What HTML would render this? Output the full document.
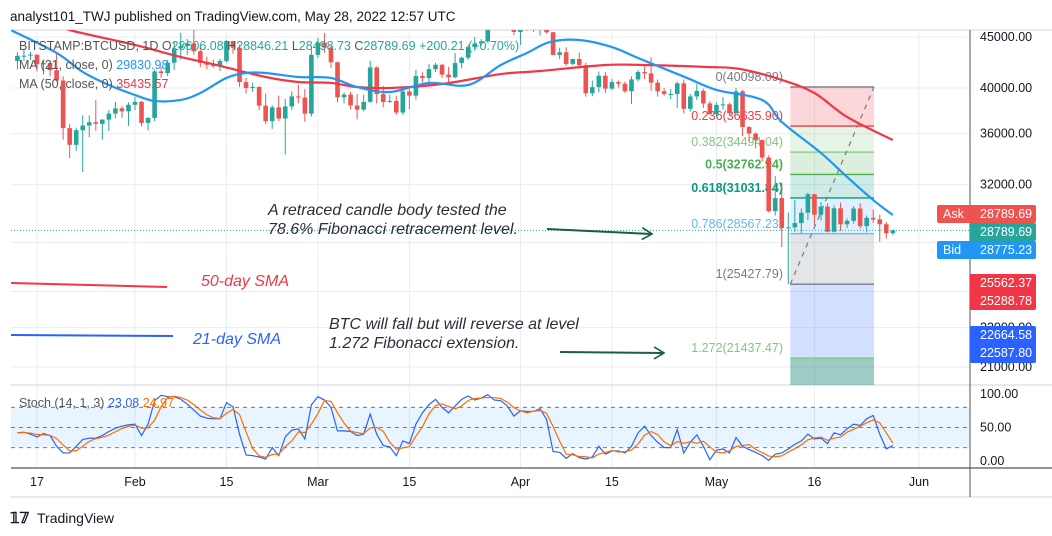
<!DOCTYPE html>
<html><head><meta charset="utf-8">
<style>
html,body{margin:0;padding:0;background:#fff;width:1052px;height:536px;overflow:hidden}
svg{display:block;font-family:"Liberation Sans",sans-serif}
</style></head>
<body>
<svg id="c" width="1052" height="536" viewBox="0 0 1052 536">
<text x="10" y="21" font-size="13.5" fill="#131722">analyst101_TWJ published on TradingView.com, May 28, 2022 12:57 UTC</text>
<defs>
<clipPath id="mainClip"><rect x="11" y="30" width="959" height="355"/></clipPath>
<clipPath id="stochClip"><rect x="11" y="386" width="959" height="82"/></clipPath>
<marker id="arr" markerWidth="12" markerHeight="14" refX="11" refY="7" orient="auto" markerUnits="userSpaceOnUse"><path d="M1,1 L11,7 L1,13" fill="none" stroke="#1b5e45" stroke-width="1.6"/></marker>
</defs>
<g id="grid"></g>
<g id="fib" clip-path="url(#mainClip)"></g>
<g id="candles" clip-path="url(#mainClip)"></g>
<g id="mas" clip-path="url(#mainClip)"></g>
<g id="stoch" clip-path="url(#stochClip)"></g>
<g id="axes"></g>
<g id="annot">
 <text x="268" y="215" font-size="16" font-style="italic" fill="#2a2e39"><tspan x="268">A retraced candle body tested the</tspan><tspan x="268" dy="19">78.6% Fibonacci retracement level.</tspan></text>
 <line x1="547" y1="229" x2="652" y2="234" stroke="#1b5e45" stroke-width="2" marker-end="url(#arr)"/>
 <line x1="11" y1="283" x2="167" y2="287" stroke="#f23645" stroke-width="2"/>
 <text x="201" y="286" font-size="16" font-style="italic" fill="#f23645">50-day SMA</text>
 <line x1="11" y1="335" x2="173" y2="336" stroke="#2962ff" stroke-width="2"/>
 <text x="193" y="344" font-size="16" font-style="italic" fill="#2962ff">21-day SMA</text>
 <text x="329" y="329" font-size="16" font-style="italic" fill="#2a2e39"><tspan x="329">BTC will fall but will reverse at level</tspan><tspan x="329" dy="19">1.272 Fibonacci extension.</tspan></text>
 <line x1="560" y1="352" x2="664" y2="353" stroke="#1b5e45" stroke-width="2" marker-end="url(#arr)"/>
</g>
<g font-size="12.5">
 <text x="19" y="50" fill="#555">BITSTAMP:BTCUSD, 1D  O<tspan fill="#26a69a">28606.08</tspan>  H<tspan fill="#26a69a">28846.21</tspan>  L<tspan fill="#26a69a">28498.73</tspan>  C<tspan fill="#26a69a">28789.69</tspan>  <tspan fill="#26a69a">+200.21 (+0.70%)</tspan></text>
 <text x="19" y="69" fill="#555">MA (21, close, 0)  <tspan fill="#2196f3">29830.98</tspan></text>
 <text x="19" y="88" fill="#555">MA (50, close, 0)  <tspan fill="#f23645">35435.57</tspan></text>
 <text x="19" y="407" fill="#555">Stoch (14, 1, 3)  <tspan fill="#2962ff">23.08</tspan>  <tspan fill="#ff6d00">24.97</tspan></text>
</g>
<g>
 <text x="10" y="523" font-size="15" font-weight="bold" fill="#131722">𝟙𝟟</text>
 <text x="37" y="523" font-size="14" fill="#131722">TradingView</text>
</g>
</svg>
<script>
// ---- data ----
const startDay = -3; // Jan 14 2022 (day 0 = Jan 17)
const opens  = [42580,43090,43100,43200,42250,42380,41680,40700,36460,35080,36280,36680,36960,36820,37180,37700,38160,37900,38480,38740,36900,37330,41560,41400,42410,43840,44080,44350,43550,42390,42200,42070,42580,44580,43900,40550,40000,40100,38400,37050,38250,37280,38330,39230,39130,37700,43180,44420,43910,42450,39150,39400,38420,38050,38740,41950,39440,38730,38820,37800,39680,39300,41120,40930,41780,42200,41260,41000,42370,42900,43970,44330,44540,46830,47130,47450,47070,45530,46300,45810,46420,46600,45500,43170,43440,42290,42770,42160,39520,40080,41150,39940,40550,40400,39700,40800,41500,41370,40500,39700,39450,39450,40430,38120,39230,39740,38600,37650,38470,38520,37720,39690,36550,36010,35470,34060,30100,31020,28950,28990,29280,29990,31300,29850,30420,28700,30300,29200,29430,30280,29080,29640,29530,29200,28600];
const highs  = [43450,43800,43480,43200,42680,42560,43500,41100,36830,36500,37550,37550,38920,37230,38000,38730,38350,38700,39200,38850,37400,41750,42000,42650,44500,45450,44800,45800,43900,43000,42700,42800,44700,44600,44200,40950,40500,40150,39500,38450,39300,39000,39700,40300,39900,44000,44900,45400,44100,42500,39600,39650,39450,39400,42600,42050,40200,39400,39300,39900,39900,41700,41480,42300,42400,42300,42000,43350,43000,44200,45000,44800,46900,48200,48100,47700,47600,46700,47200,47450,46900,47200,45500,43900,43950,42800,43400,42400,40700,41550,41500,40850,40700,40600,41100,41700,42200,42950,40800,39980,39900,40600,40800,39450,40350,39930,38800,38700,39150,38650,40000,39830,36650,36100,35500,34250,32650,32150,30000,30900,30300,31400,31300,30750,30650,30500,30700,29600,30450,30650,29800,30200,29850,29350,28850];
const lows   = [41750,42600,42700,41550,41250,41100,40600,35500,34020,34600,32950,35700,36250,35500,36200,37300,37350,36650,38000,36600,36250,37050,40950,41100,41700,42700,43200,43200,42000,41750,41900,41600,42450,43300,40100,39500,39650,38000,36800,36400,37050,34300,38000,38600,37000,37450,42850,43400,41900,38700,38600,38100,37200,37900,38650,38600,38250,38650,37600,37600,38100,38950,40500,40150,41500,40950,40500,40900,41850,42700,43600,44100,44400,46650,46950,46550,45200,44200,45650,45550,45150,45350,43150,42750,42100,42150,42000,39200,39250,39600,39550,39800,40050,39550,38550,40600,40850,39750,39200,39300,38980,38200,37720,37880,38900,38200,37600,37400,38050,37550,37700,35800,35300,34800,33750,30000,29800,27700,25430,28700,28600,29500,29100,29450,28650,28650,28750,28950,29250,28900,28650,29300,28050,28250,28500];
const closes = [43090,43100,43200,42250,42380,41680,40700,36460,35080,36280,36680,36960,36820,37180,37700,38160,37900,38480,38740,36900,37330,41560,41400,42410,43840,44080,44350,43550,42390,42200,42070,42580,44580,43900,40550,40000,40100,38400,37050,38250,37280,38330,39230,39130,37700,43180,44420,43910,42450,39150,39400,38420,38050,38740,41950,39440,38730,38820,37800,39680,39300,41120,40930,41780,42200,41260,41000,42370,42900,43970,44330,44540,46830,47130,47450,47070,45530,46300,45810,46420,46600,45500,43170,43440,42290,42770,42160,39520,40080,41150,39940,40550,40400,39700,40800,41500,41370,40500,39700,39450,39450,40430,38120,39230,39740,38600,37650,38470,38520,37720,39690,36550,36010,35470,34060,30100,31020,28950,28990,29280,29990,31300,29850,30420,28700,30300,29200,29430,30280,29080,29640,29530,29200,28600,28789.69];
const ma21Days = [-4,3,7,11,15,18,22,25,29,32,35,40,45,49,54,60,66,71,75,78.5,83,88,92,99.5,104,111,114,120,124,128,131];
const ma21Vals = [45730,43370,41510,40280,39360,38820,38910,39540,40940,41410,41410,41030,40940,40090,39630,40470,40280,42180,43370,44480,44690,43970,42870,40940,39820,38910,36980,34430,32570,30880,29830];
const ma50Days = [3,5,15,22,27.5,35,40,45,49,54,62,71,77,87,93,102.5,107.6,114,119,124,131];
const ma50Vals = [46500,45730,44180,42970,42180,41030,40560,40470,40090,40000,40370,41310,41600,42180,42180,41990,41800,40750,39540,37410,35470];
const stochStart = -3;
const stochK = [42,43,40,36,41,38,22,12,12,22,32,34,34,38,44,49,52,54,55,38,55,90,98,96,96,92,85,76,67,64,63,63,87,81,40,9,8,6,3,20,8,36,46,48,33,84,96,91,80,45,45,44,38,40,70,40,23,21,8,30,26,55,72,84,92,80,72,82,92,97,91,94,99,91,90,82,67,75,74,74,78,62,14,13,4,11,5,3,6,22,10,15,15,12,22,42,52,38,28,20,20,47,12,28,39,22,2,16,18,12,35,22,17,13,8,1,10,12,18,25,30,40,33,34,26,42,39,48,55,53,63,68,40,18,23];
const fibHigh = 40098.09, fibLow = 25427.79, fibStartDay = 115, fibEndDay = 128;
const fibLevels = [0,0.236,0.382,0.5,0.618,0.786,1,1.272,1.618];
const priceTicks = [45000,40000,36000,32000,28000,25000,23000,21000];
const dateTickDays = [0,15,29,43,57,74,88,104,119,135];
const dateTickLabels = ["17","Feb","15","Mar","15","Apr","15","May","16","Jun"];
const stochTicks = [100,50,0];

// ---- scales ----
const NS="http://www.w3.org/2000/svg";
const xOf = d => 37 + 6.533*d;
const yOf = p => 37 + 433*Math.log(45000/p);
const ySt = v => 461 - 0.67*v;
function mk(tag, parent, attrs){const e=document.createElementNS(NS,tag);for(const k in attrs)e.setAttribute(k,attrs[k]);parent.appendChild(e);return e;}
const G=id=>document.getElementById(id);

// grid
const grid=G('grid');
priceTicks.forEach(p=>{const l=mk('line',grid,{x1:11,x2:970,y1:yOf(p),y2:yOf(p),stroke:'#e8edf3','stroke-width':1});

});
dateTickDays.forEach(d=>{const l=mk('line',grid,{x1:xOf(d),x2:xOf(d),y1:30,y2:468,stroke:'#e8edf3','stroke-width':1});

});
[30,385,468,497].forEach((y,i)=>{const l=mk('line',grid,{x1:11,x2:1052,y1:y,y2:y,stroke:i==2?'#50535e':'#e0e3eb','stroke-width':i==2?1.2:1.5});

});

// fib
const fib=G('fib');
const fx1=xOf(fibStartDay)+2, fx2=874;
const fibColors=['rgba(242,54,69,0.2)','rgba(129,199,132,0.2)','rgba(76,175,80,0.2)','rgba(8,153,129,0.2)','rgba(100,181,246,0.2)','rgba(120,123,134,0.2)','rgba(41,98,255,0.2)','rgba(0,121,107,0.38)'];
const fibLine=['#787b86','#f23645','#81c784','#4caf50','#089981','#64b5f6','#787b86','#81c784','#2962ff'];
const fibPrice = l => fibHigh - l*(fibHigh-fibLow);
for(let i=0;i<fibLevels.length-1;i++){
 const ya=yOf(fibPrice(fibLevels[i])), yb=yOf(fibPrice(fibLevels[i+1]));
 const r=mk('rect',fib,{x:fx1,y:ya,width:fx2-fx1,height:yb-ya,fill:fibColors[i]});
 
 
}
fibLevels.forEach((l,i)=>{const y=yOf(fibPrice(l));
 const ln=mk('line',fib,{x1:fx1,x2:fx2,y1:y,y2:y,stroke:fibLine[i],'stroke-width':1.3});
 
 
 if(i<8){const t=mk('text',fib,{x:783,y:y-6,'text-anchor':'end','font-size':12.5,fill:fibLine[i],'font-weight':(l==0.5||l==0.618)?'bold':'normal'});
 t.textContent=l+'('+fibPrice(l).toFixed(2)+')';
 
 }
});
const dg=mk('line',fib,{x1:fx1,y1:yOf(fibLow),x2:fx2,y2:yOf(fibHigh),stroke:'#787b86','stroke-width':1.2,'stroke-dasharray':'5,5'});



// current price dotted line
const cp=closes[closes.length-1];
const cl=mk('line',G('grid'),{x1:11,x2:970,y1:yOf(cp),y2:yOf(cp),stroke:'#26a69a','stroke-width':1,'stroke-dasharray':'1,2'});



// candles
const cg=G('candles');
closes.forEach((c,i)=>{const d=startDay+i, x=xOf(d), o=opens[i], up=c>=o, col=up?'#26a69a':'#ef5350';
 const w=mk('line',cg,{x1:x,x2:x,y1:yOf(highs[i]),y2:yOf(lows[i]),stroke:col,'stroke-width':1});
 
 
 const yt=yOf(Math.max(o,c)), yb=yOf(Math.min(o,c));
 const b=mk('rect',cg,{x:x-2.3,y:yt,width:4.6,height:Math.max(1,yb-yt),fill:col});
 
 
});

// MAs
function smooth(days,vals){const pts=days.map((d,i)=>[xOf(d),yOf(vals[i])]);let s='M'+pts[0][0]+','+pts[0][1];
 for(let i=0;i<pts.length-1;i++){const p0=pts[Math.max(0,i-1)],p1=pts[i],p2=pts[i+1],p3=pts[Math.min(pts.length-1,i+2)];
 s+=' C'+(p1[0]+(p2[0]-p0[0])/6)+','+(p1[1]+(p2[1]-p0[1])/6)+' '+(p2[0]-(p3[0]-p1[0])/6)+','+(p2[1]-(p3[1]-p1[1])/6)+' '+p2[0]+','+p2[1];}
 return s;}
const m50=mk('path',G('mas'),{d:smooth(ma50Days,ma50Vals),fill:'none',stroke:'#f23645','stroke-width':2.2});


const m21=mk('path',G('mas'),{d:smooth(ma21Days,ma21Vals),fill:'none',stroke:'#2196f3','stroke-width':2.2});



// stoch
const sg=G('stoch');
const band=mk('rect',sg,{x:11,y:ySt(80),width:959,height:ySt(20)-ySt(80),fill:'rgba(33,150,243,0.1)'});


[80,50,20].forEach(v=>{const l=mk('line',sg,{x1:11,x2:970,y1:ySt(v),y2:ySt(v),stroke:'#787b86','stroke-dasharray':'4,4','stroke-width':1});
 
 });
const stochD=stochK.map((v,i)=>{const a=stochK.slice(Math.max(0,i-2),i+1);return a.reduce((s,x)=>s+x,0)/a.length;});
const kp=mk('polyline',sg,{points:stochK.map((v,i)=>xOf(stochStart+i)+','+ySt(v)).join(' '),fill:'none',stroke:'#2962ff','stroke-width':1.2});


const dp=mk('polyline',sg,{points:stochD.map((v,i)=>xOf(stochStart+i)+','+ySt(v)).join(' '),fill:'none',stroke:'#ff6d00','stroke-width':1.2});



// axes
const ax=G('axes');
const av=mk('line',ax,{x1:970,x2:970,y1:30,y2:497,stroke:'#50535e','stroke-width':1});


priceTicks.forEach(p=>{const t=mk('text',ax,{x:980,y:yOf(p)+4,'font-size':12.5,fill:'#131722'});t.textContent=p.toFixed(2);
 
 });
stochTicks.forEach(v=>{const t=mk('text',ax,{x:980,y:ySt(v)+4,'font-size':12.5,fill:'#131722'});t.textContent=v.toFixed(2);
 
 });
dateTickDays.forEach((d,i)=>{const t=mk('text',ax,{x:xOf(d),y:486,'font-size':12.5,fill:'#131722','text-anchor':'middle'});t.textContent=dateTickLabels[i];
 
 });
// items: [x, rowIndex, text]
function pill(x,y,w,h,fill,items,name){const g=mk('g',ax,{});
 
 
 mk('rect',g,{x:x,y:y,width:w,height:h,rx:2,fill:fill});
 items.forEach(it=>{const t=mk('text',g,{x:it[0],y:y+13+it[1]*18,'font-size':12.5,fill:'#fff'});t.textContent=it[2];});}
pill(937,205,99,18,'#ef5350',[[943,0,'Ask'],[980,0,'28789.69']],'ask-price-tag');
pill(970,223,66,18,'#26a69a',[[980,0,cp.toFixed(2)]],'last-price-tag');
pill(937,241,99,18,'#2196f3',[[943,0,'Bid'],[980,0,'28775.23']],'bid-price-tag');
pill(970,274,66,36,'#f23645',[[980,0,'25562.37'],[980,1,'25288.78']],'red-price-tags');
pill(970,326,66,37,'#2962ff',[[980,0,'22664.58'],[980,1,'22587.80']],'blue-price-tags');
</script>
</body></html>
